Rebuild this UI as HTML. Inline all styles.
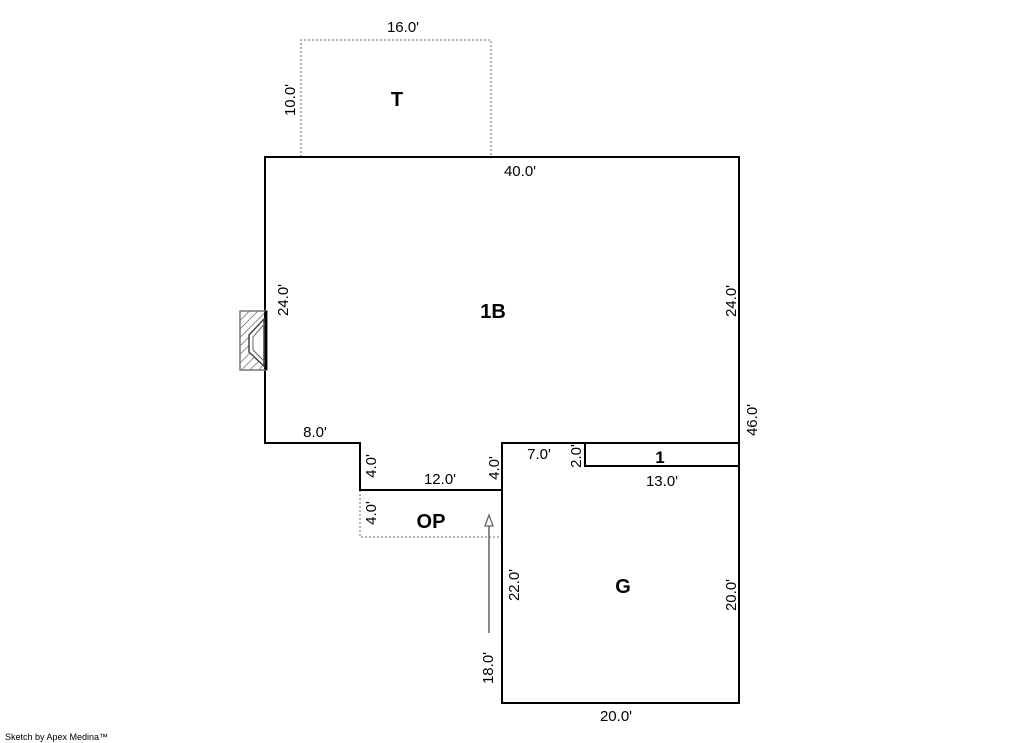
<!DOCTYPE html>
<html><head><meta charset="utf-8"><style>
html,body{margin:0;padding:0;background:#fff;width:1013px;height:743px;overflow:hidden}
svg text{font-family:"Liberation Sans",Arial,sans-serif;fill:#000}
.d{font-size:15px}
.b{font-size:20px;font-weight:bold}
</style></head><body>
<svg width="1013" height="743" viewBox="0 0 1013 743" xmlns="http://www.w3.org/2000/svg">
<defs>
<pattern id="h" width="6" height="6" patternUnits="userSpaceOnUse" patternTransform="rotate(45)">
<line x1="0" y1="0" x2="0" y2="6" stroke="#444" stroke-width="1.2"/>
</pattern>
</defs>
<g fill="none" stroke="#888" stroke-width="1.3" stroke-dasharray="2,2">
<polyline points="301,157 301,40 491,40 491,157"/>
<polyline points="360,490 360,537 502,537"/>
</g>
<g fill="none" stroke="#000" stroke-width="2">
<polygon points="265,157 739,157 739,443 502,443 502,490 360,490 360,443 265,443"/>
<polygon points="502,443 739,443 739,703 502,703"/>
<rect x="585" y="443" width="154" height="23"/>
</g>
<rect x="240" y="311" width="27" height="59" fill="url(#h)" stroke="#777" stroke-width="1.5"/>
<polygon points="264,319 249,335 249,352 264,366" fill="#fff" stroke="#444" stroke-width="1.5"/>
<polyline points="266,322 253,337 253,350 266,363" fill="none" stroke="#666" stroke-width="1"/>
<line x1="266" y1="311" x2="266" y2="370" stroke="#000" stroke-width="2"/>
<line x1="489" y1="633" x2="489" y2="524" stroke="#888" stroke-width="2"/>
<polygon points="489,515 485,526 493,526" fill="#fff" stroke="#666" stroke-width="1.3"/>
<g class="d">
<text x="403" y="32" text-anchor="middle">16.0'</text>
<text x="520" y="176" text-anchor="middle">40.0'</text>
<text x="315" y="437" text-anchor="middle">8.0'</text>
<text x="440" y="484" text-anchor="middle">12.0'</text>
<text x="539" y="459" text-anchor="middle">7.0'</text>
<text x="662" y="486" text-anchor="middle">13.0'</text>
<text x="616" y="721" text-anchor="middle">20.0'</text>
<text transform="translate(295,100) rotate(-90)" text-anchor="middle">10.0'</text>
<text transform="translate(288,300) rotate(-90)" text-anchor="middle">24.0'</text>
<text transform="translate(736,301) rotate(-90)" text-anchor="middle">24.0'</text>
<text transform="translate(757,420) rotate(-90)" text-anchor="middle">46.0'</text>
<text transform="translate(376,466) rotate(-90)" text-anchor="middle">4.0'</text>
<text transform="translate(376,513) rotate(-90)" text-anchor="middle">4.0'</text>
<text transform="translate(499,468) rotate(-90)" text-anchor="middle">4.0'</text>
<text transform="translate(581,456) rotate(-90)" text-anchor="middle">2.0'</text>
<text transform="translate(519,585) rotate(-90)" text-anchor="middle">22.0'</text>
<text transform="translate(736,595) rotate(-90)" text-anchor="middle">20.0'</text>
<text transform="translate(493,668) rotate(-90)" text-anchor="middle">18.0'</text>
</g>
<g class="b">
<text x="397" y="106" text-anchor="middle">T</text>
<text x="493" y="318" text-anchor="middle">1B</text>
<text x="660" y="463" text-anchor="middle" style="font-size:17px">1</text>
<text x="431" y="528" text-anchor="middle">OP</text>
<text x="623" y="593" text-anchor="middle">G</text>
</g>
<text x="5" y="740" style="font-size:9px">Sketch by Apex Medina™</text>
</svg>
</body></html>
